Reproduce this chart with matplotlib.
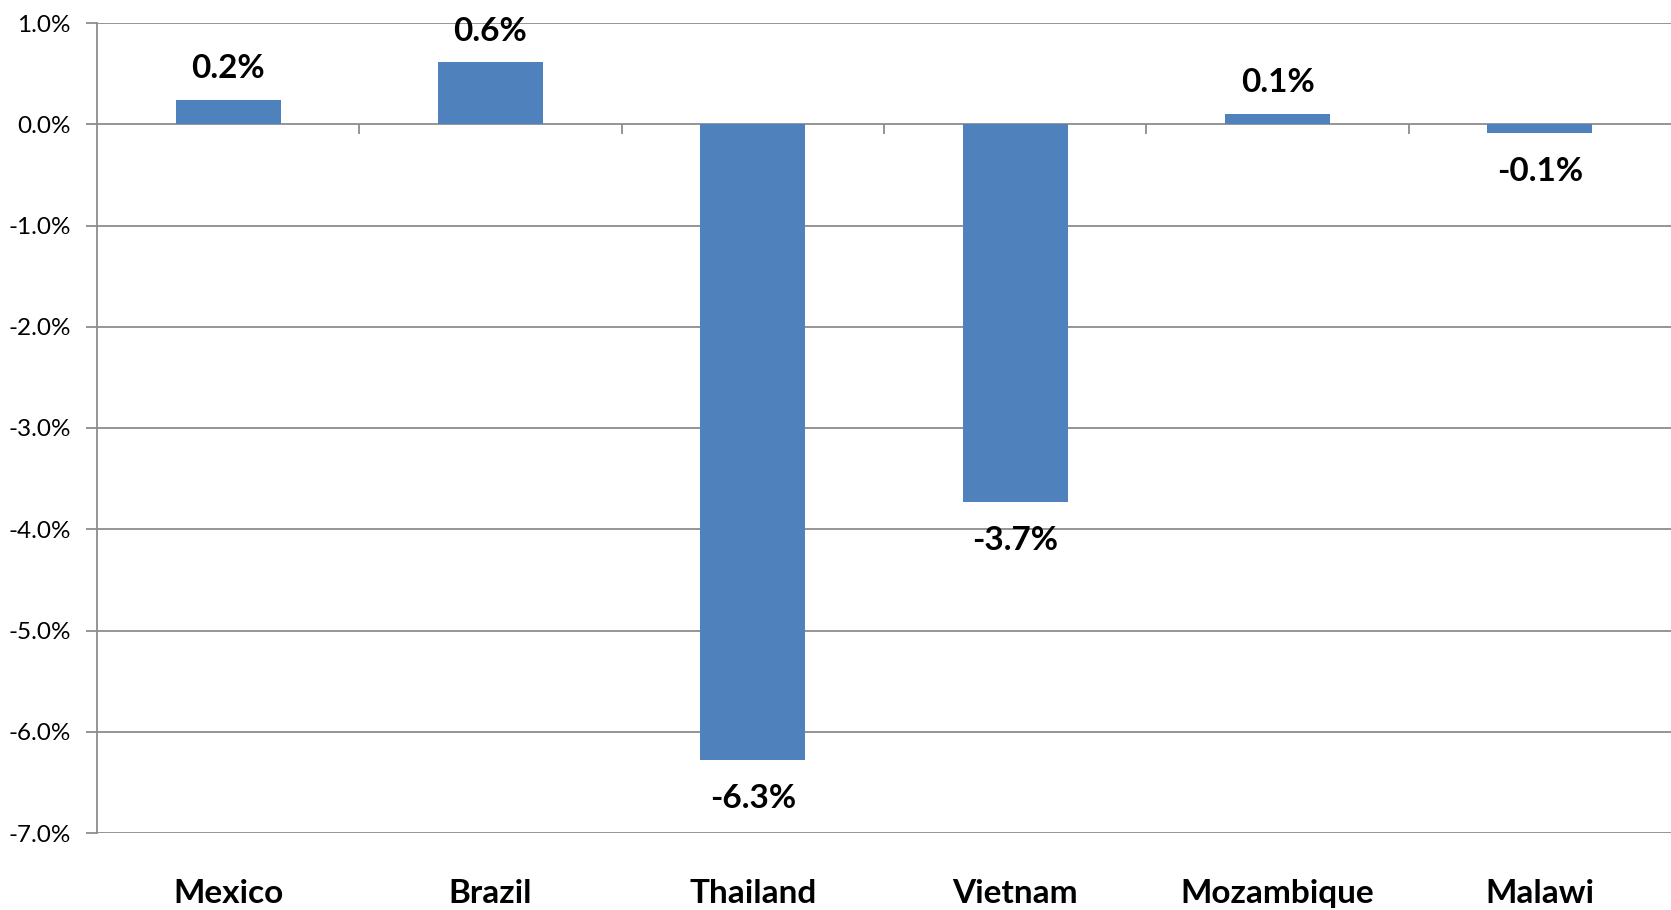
import matplotlib
matplotlib.use("Agg")
import matplotlib.pyplot as plt
import numpy as np

categories = ["Mexico", "Brazil", "Thailand", "Vietnam", "Mozambique", "Malawi"]
values = [0.24, 0.61, -6.28, -3.73, 0.10, -0.09]
labels = ["0.2%", "0.6%", "-6.3%", "-3.7%", "0.1%", "-0.1%"]
yticks = [1.0, 0.0, -1.0, -2.0, -3.0, -4.0, -5.0, -6.0, -7.0]

plt.rcParams['font.family'] = ['Lato', 'DejaVu Sans']

fig = plt.figure(figsize=(16.71, 9.10), dpi=100)
ax = fig.add_axes([97/1671, 1 - 833/910, 1 - 97/1671, (833 - 23)/910])

n = len(categories)
x = np.arange(n)
bar_color = "#4F81BD"
grid_color = "#8C8C8C"

ax.bar(x, values, width=0.4, color=bar_color, zorder=3)
ax.set_xlim(-0.5, n - 0.5)
ax.set_ylim(-7.0, 1.0)

ax.set_yticks(yticks)
ax.set_yticklabels([f"{t:.1f}%" for t in yticks], fontsize=17.5)
ax.tick_params(axis='y', length=8, width=1.3, color=grid_color, pad=11)
for t in yticks:
    ax.axhline(t, color=grid_color, lw=1.3, zorder=1)

# category labels at bottom
ax.set_xticks(x)
ax.set_xticklabels(categories, fontsize=24, fontweight='bold')
ax.tick_params(axis='x', length=0, pad=33)

# category separator ticks on the zero line
bounds = np.arange(n + 1) - 0.5
ax.vlines(bounds[1:-1], -0.1, 0, color=grid_color, lw=1.3, zorder=2)

for s in ["top", "right", "bottom"]:
    ax.spines[s].set_visible(False)
ax.spines["left"].set_color(grid_color)
ax.spines["left"].set_linewidth(1.3)

for xi, v, lab in zip(x, values, labels):
    if v >= 0:
        ax.annotate(lab, (xi, v), xytext=(0, 12), textcoords="offset points",
                    ha="center", va="bottom", fontsize=24, fontweight="bold")
    else:
        ax.annotate(lab, (xi, v), xytext=(0, -17), textcoords="offset points",
                    ha="center", va="top", fontsize=24, fontweight="bold")

fig.savefig("out.png", dpi=100)
